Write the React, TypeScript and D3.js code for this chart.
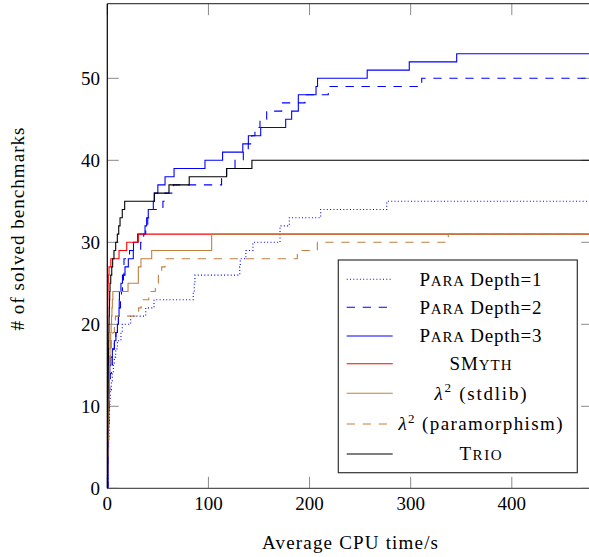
import React from 'react';
import * as d3 from 'd3';

// ---- data (solve times in seconds; count = index + 1) ----
const xTicks = [0, 100, 200, 300, 400];
const yTicks = [0, 10, 20, 30, 40, 50];
const xMax = 480;
const yMax = 59.1;

const paraDepth1 = [0.8, 0.9, 1.0, 1.1, 1.2, 1.4, 1.6, 1.8, 2.0, 2.2, 2.5, 3, 4, 5, 6, 7, 8.3, 10, 13.5, 14.8, 23.1, 38, 46.2, 85, 86, 86.7, 131, 131.5, 137, 144, 170.8, 170.8, 180, 211, 276.3];
const paraDepth2 = [0.9, 1.0, 1.1, 1.15, 1.2, 1.25, 1.3, 1.4, 1.5, 1.6, 1.7, 1.8, 2.5, 3, 4, 5, 6, 7, 8.5, 10, 11, 12, 13, 14, 15, 16, 16.5, 16.5, 22, 33, 36, 38, 40, 41, 55, 57, 65.3, 113, 118, 126.3, 134.5, 139.4, 142.8, 146, 151, 157.6, 172.4, 195.5, 218.5, 310.9];
const paraDepth3 = [0.8, 0.9, 1.0, 1.05, 1.1, 1.15, 1.2, 1.3, 1.4, 1.5, 1.6, 1.7, 1.8, 2.0, 2.5, 3.5, 5, 7, 8.5, 10, 11, 11.6, 11.8, 12, 13.5, 15, 17.5, 20.8, 25.7, 25.9, 30, 37.3, 38.9, 40.5, 45.5, 46.5, 50, 57.1, 66, 96.6, 114, 134, 139.5, 151.7, 176.4, 182.3, 188.9, 188.9, 206.4, 207.9, 257, 298.6, 345.5];
const smyth = [0.05, 0.08, 0.1, 0.12, 0.14, 0.16, 0.18, 0.2, 0.22, 0.24, 0.26, 0.28, 0.3, 0.32, 0.34, 0.36, 0.38, 0.4, 0.42, 0.44, 0.46, 0.48, 0.55, 0.65, 0.8, 1.0, 1.7, 3.5, 11.6, 19.2, 30.7];
const lambdaStdlib = [0.2, 0.3, 0.4, 0.5, 0.6, 0.7, 0.8, 0.9, 1.0, 1.2, 1.4, 1.6, 1.8, 2.0, 2.2, 2.4, 2.7, 3.0, 3.4, 3.8, 4.2, 4.6, 5, 5.5, 20.5, 30.7, 30.7, 33.3, 43.9, 103.2, 103.2];
const lambdaParamorphism = [0.3, 0.4, 0.5, 0.6, 0.7, 0.8, 0.9, 1.0, 1.1, 1.2, 1.3, 1.4, 1.5, 1.7, 2, 2.5, 3, 4, 5.5, 7, 8, 31, 33.5, 41, 47.5, 50.5, 53.8, 57.1, 187.9, 207.7, 337.2];
const trio = [0.1, 0.15, 0.2, 0.25, 0.3, 0.35, 0.4, 0.45, 0.5, 0.55, 0.6, 0.7, 0.8, 0.9, 1.0, 1.1, 1.2, 1.35, 1.5, 1.65, 1.8, 2.0, 2.2, 2.4, 2.7, 3.4, 4.4, 5.3, 6.6, 8.3, 9.9, 11.3, 12.6, 14.8, 17.2, 46.5, 61, 81, 118, 143];

const seriesData = [paraDepth1, paraDepth2, paraDepth3, smyth, lambdaStdlib, lambdaParamorphism, trio];

// ---- styles ----
const BLUE = '#0000ff';
const RED = '#ff0000';
const BROWN = '#bf8040';
const styles = [
  { color: BLUE, dash: '1,2.3', width: 1.1 },
  { color: BLUE, dash: '8.3,7.7', width: 1.1 },
  { color: BLUE, dash: undefined, width: 1.1 },
  { color: RED, dash: undefined, width: 1.1 },
  { color: BROWN, dash: undefined, width: 1.1 },
  { color: BROWN, dash: '8.3,7.7', width: 1.1 },
  { color: '#000000', dash: undefined, width: 1.1 },
];
const legendTextWidths = [122, 122, 122, 62, 92, 164, 42];

const W = 589;
const H = 557;
const L = 107.3, R = 592.7, T = 3.7, B = 488.3;
const FONT = '"Liberation Serif", cursive';
const FS = 19;
const SC = 15; // small-caps size

function SmallCaps({ text }: { text: string }) {
  const parts: { s: string; small: boolean }[] = [];
  for (const ch of text) {
    const small = ch !== ch.toUpperCase();
    const last = parts[parts.length - 1];
    if (last && last.small === small) last.s += small ? ch.toUpperCase() : ch;
    else parts.push({ s: small ? ch.toUpperCase() : ch, small });
  }
  return (
    <>
      {parts.map((p, k) => (
        <tspan key={k} fontSize={p.small ? SC : FS}>
          {p.s}
        </tspan>
      ))}
    </>
  );
}

function LegendLabel({ i }: { i: number }) {
  if (i <= 2) {
    return (
      <>
        <SmallCaps text="Para" />
        <tspan> Depth={i + 1}</tspan>
      </>
    );
  }
  if (i === 3) return <SmallCaps text="SMyth" />;
  if (i === 4 || i === 5) {
    return (
      <>
        <tspan fontStyle="italic">λ</tspan>
        <tspan dy={-7.5} fontSize={13}>2</tspan>
        <tspan dy={7.5}>{i === 4 ? ' (stdlib)' : ' (paramorphism)'}</tspan>
      </>
    );
  }
  return <SmallCaps text="Trio" />;
}

export default function App() {
  const x = d3.scaleLinear().domain([0, xMax]).range([L, R]);
  const y = d3.scaleLinear().domain([0, yMax]).range([B, T]);
  const line = d3
    .line<[number, number]>()
    .x((d) => x(d[0]))
    .y((d) => y(d[1]))
    .curve(d3.curveStepAfter);

  const paths = seriesData.map((times) => {
    const pts: [number, number][] = [[0, 0]];
    times.forEach((t, i) => pts.push([t, i + 1]));
    pts.push([xMax, times.length]);
    return line(pts) || '';
  });

  const legendX = 338.3, legendY = 260, legendW = 239, legendH = 212.7;
  const rowY = [279.3, 307.3, 336, 363.7, 393.3, 424, 454];
  const tickLen = 11.5;
  const tickColor = '#8a8a8a';
  const ts = { fontFamily: FONT };

  return (
    <svg
      width={W}
      height={H}
      style={{ position: 'absolute', left: 0, top: 0, background: '#fff', fontFamily: FONT }}
    >
      <defs>
        <clipPath id="plotclip">
          <rect x={L} y={T} width={R - L} height={B - T} />
        </clipPath>
      </defs>

      {/* ticks */}
      {yTicks.map((v) => (
        <g key={'yt' + v}>
          <line x1={L} x2={L + tickLen} y1={y(v)} y2={y(v)} stroke={tickColor} strokeWidth={1} />
          <line x1={R} x2={R - tickLen} y1={y(v)} y2={y(v)} stroke={tickColor} strokeWidth={1} />
        </g>
      ))}
      {xTicks.map((v) => (
        <g key={'xt' + v}>
          <line x1={x(v)} x2={x(v)} y1={B} y2={B - tickLen} stroke={tickColor} strokeWidth={1} />
          <line x1={x(v)} x2={x(v)} y1={T} y2={T + tickLen} stroke={tickColor} strokeWidth={1} />
        </g>
      ))}

      {/* series */}
      <g clipPath="url(#plotclip)">
        {paths.map((p, i) => (
          <path
            key={i}
            d={p}
            fill="none"
            stroke={styles[i].color}
            strokeWidth={styles[i].width}
            strokeDasharray={styles[i].dash}
          />
        ))}
      </g>

      {/* frame */}
      <line x1={L} x2={R} y1={T} y2={T} stroke="#444" strokeWidth={1.2} />
      <line x1={L} x2={R} y1={B} y2={B} stroke="#555" strokeWidth={1.2} />
      <line x1={L} x2={L} y1={T} y2={B} stroke="#000" strokeWidth={1.2} />
      <line x1={R} x2={R} y1={T} y2={B} stroke="#444" strokeWidth={1.2} />

      {/* tick labels */}
      {yTicks.map((v) => (
        <text key={'yl' + v} x={100} y={y(v) + 6.3} textAnchor="end" fontSize={FS} fill="#000" style={ts}>
          {v}
        </text>
      ))}
      {xTicks.map((v) => (
        <text key={'xl' + v} x={x(v)} y={510} textAnchor="middle" fontSize={FS} fill="#000" style={ts}>
          {v}
        </text>
      ))}

      {/* axis titles */}
      <text x={350} y={549} textAnchor="middle" fontSize={FS} fill="#000" style={ts} textLength={176} lengthAdjust="spacing">
        Average CPU time/s
      </text>
      <text
        transform="translate(23.5,229) rotate(-90)"
        textAnchor="middle"
        fontSize={FS}
        fill="#000"
        style={ts}
        textLength={203}
        lengthAdjust="spacing"
      >
        # of solved benchmarks
      </text>

      {/* legend */}
      <rect x={legendX} y={legendY} width={legendW} height={legendH} fill="#fff" stroke="#333" strokeWidth={1.2} />
      {styles.map((s, i) => (
        <g key={'lg' + i}>
          <line
            x1={346.7}
            x2={392.7}
            y1={rowY[i]}
            y2={rowY[i]}
            stroke={s.color}
            strokeWidth={s.width}
            strokeDasharray={s.dash}
          />
          <text
            x={480.5}
            y={rowY[i] + 6.3}
            textAnchor="middle"
            fontSize={FS}
            fill="#000"
            style={ts}
            textLength={legendTextWidths[i]}
            lengthAdjust="spacing"
          >
            <LegendLabel i={i} />
          </text>
        </g>
      ))}
    </svg>
  );
}
